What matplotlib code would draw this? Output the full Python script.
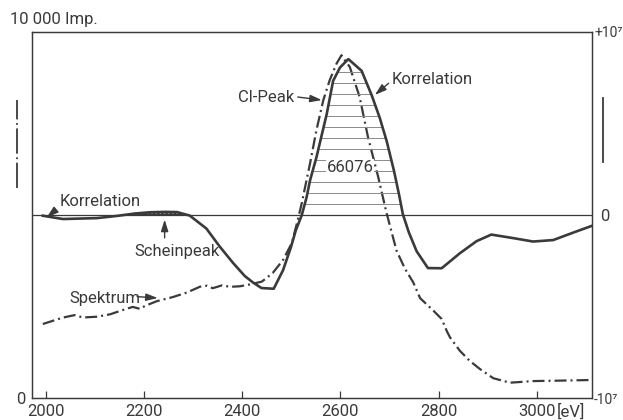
import numpy as np
import matplotlib
matplotlib.use('Agg')
import matplotlib.pyplot as plt

plt.rcParams['font.family'] = ['Roboto', 'DejaVu Sans']

# ---------------- data ----------------
# Spektrum (left axis, impulses)
spec_energy = [1994, 2035, 2059, 2076, 2104, 2131, 2157, 2177, 2192, 2202, 2226,
               2259, 2287, 2314, 2328, 2340, 2359, 2375, 2395, 2416, 2440, 2462,
               2483, 2501, 2513, 2521, 2538, 2551, 2565, 2578, 2592, 2602, 2609,
               2619, 2639, 2656, 2676, 2694, 2714, 2731, 2748, 2762, 2776, 2789,
               2806, 2817, 2823, 2843, 2863, 2884, 2911, 2945, 2992, 3060, 3111]
spec_counts = [2022, 2197, 2265, 2199, 2221, 2287, 2404, 2489, 2434, 2516, 2645,
               2759, 2880, 3041, 3068, 3000, 3079, 3038, 3052, 3104, 3180, 3415,
               3770, 4235, 4860, 5316, 6409, 7316, 8136, 8682, 9138, 9365, 9226,
               9043, 8223, 7128, 6081, 5043, 4030, 3538, 3161, 2729, 2552, 2388,
               2158, 1811, 1656, 1290, 1016, 790, 541, 418, 462, 478, 492]

# Korrelation (right axis, units of 10^6)
corr_energy = [1994, 2035, 2104, 2145, 2181, 2212, 2242, 2267, 2293, 2327, 2354,
               2381, 2405, 2422, 2439, 2464, 2483, 2499, 2509, 2521, 2531, 2538,
               2551, 2572, 2585, 2599, 2616, 2643, 2664, 2680, 2694, 2709, 2719,
               2727, 2739, 2755, 2778, 2806, 2843, 2877, 2907, 2951, 2992, 3033,
               3074, 3111]
corr_value = [-0.04, -0.22, -0.17, -0.05, 0.08, 0.15, 0.17, 0.16, -0.03, -0.74,
              -1.72, -2.61, -3.33, -3.69, -3.99, -4.03, -3.02, -1.77, -0.84, -0.02,
              0.97, 1.89, 3.15, 5.52, 7.33, 8.06, 8.52, 7.88, 6.51, 5.30, 4.04,
              2.40, 1.14, 0.04, -0.94, -1.98, -2.90, -2.91, -2.09, -1.43, -1.07,
              -1.26, -1.45, -1.37, -0.96, -0.60]

x_ticks = [2000, 2200, 2400, 2600, 2800, 3000]
x_tick_labels = ['2000', '2200', '2400', '2600', '2800', '3000']
right_ticks = [-10, 0, 10]
right_tick_labels = ['-10\u2077', '0', '+10\u2077']
peak_area_label = '66076'

INK = '#3a3a3a'
FS = 12

# ---------------- figure ----------------
fig = plt.figure(figsize=(6.23, 4.2), dpi=100)
ax = fig.add_axes([32 / 623, 1 - 398 / 420, 560 / 623, 366 / 420])
ax2 = ax.twinx()
ax.set_xlim(1972, 3112)
ax.set_ylim(0, 10000)
ax2.set_ylim(-10, 10)

for a in (ax, ax2):
    for s in a.spines.values():
        s.set_color(INK)
        s.set_linewidth(0.9)

se = np.array(spec_energy, float)
sc = np.array(spec_counts, float)
ce = np.array(corr_energy, float)
cv = np.array(corr_value, float)

# spectrum (dash-dot)
ax.plot(se, sc, color=INK, lw=1.6, ls=(0, (5.4, 1.8, 0.9, 1.8)), zorder=3)

# zero line of correlation
ax2.axhline(0, color=INK, lw=0.9, zorder=2)

# hatched area under correlation peak
imax = int(np.argmax(cv))
m_asc = (ce >= 2515) & (ce <= ce[imax])
m_des = (ce >= ce[imax]) & (ce <= 2730)
asc_e, asc_v = ce[m_asc], cv[m_asc]
des_e, des_v = ce[m_des], cv[m_des]
hatch_step = 0.6
levels = np.arange(hatch_step, cv[imax] - 0.3, hatch_step)
for lv in levels:
    e_l = np.interp(lv, asc_v, asc_e)
    e_r = np.interp(lv, des_v[::-1], des_e[::-1])
    ax2.hlines(lv, e_l, e_r, color='#8a8a8a', lw=0.7, zorder=1)

# Scheinpeak filled sliver
sp = (ce >= 2150) & (ce <= 2300)
ax2.fill_between(ce, cv, 0, where=sp & (cv > 0), interpolate=True,
                 facecolor=INK, edgecolor='white', hatch='....', lw=0, zorder=2)

# correlation (solid)
ax2.plot(ce, cv, color=INK, lw=1.9, zorder=4, solid_joinstyle='round')

ax2.text(2619, 2.62, peak_area_label, ha='center', va='center', fontsize=FS,
         color=INK, zorder=3,
         bbox=dict(boxstyle='square,pad=0.05', fc='white', ec='none'))

# ---------------- ticks ----------------
ax.set_xticks(x_ticks)
ax.set_xticklabels(x_tick_labels)
ax.tick_params(axis='x', direction='in', length=5, width=0.9, pad=4,
               labelsize=FS, colors=INK)
ax.set_yticks([0])
ax.set_yticklabels(['0'])
ax.tick_params(axis='y', length=0, pad=5, labelsize=FS, colors=INK)
ax2.set_yticks(right_ticks)
ax2.set_yticklabels(right_tick_labels)
ax2.tick_params(axis='y', length=0, pad=1.5, labelsize=10, colors=INK)
ax2.tick_params(axis='x', length=0)
ax2.get_yticklabels()[1].set_fontsize(FS)
ax2.get_yticklabels()[1].set_x(1.0 + 6 / 560)

ax.annotate('10 000 Imp.', xy=(0, 10000), xycoords=('axes fraction', 'data'),
            xytext=(-16, 9), textcoords='offset points', ha='left', va='center',
            fontsize=FS, color=INK)
ax.annotate('[eV]', xy=(3000, 0), xycoords=('data', 'axes fraction'),
            xytext=(14, -4), textcoords='offset points', ha='left', va='top',
            fontsize=FS, color=INK)

# ---------------- labels & arrows ----------------
arrow = dict(arrowstyle='-|>,head_length=0.7,head_width=0.22', color=INK, lw=1.0,
             shrinkA=0, shrinkB=0)

ax.text(2505, 8223, 'Cl-Peak', ha='right', va='center', fontsize=FS, color=INK)
ax.annotate('', xy=(2562, 8141), xytext=(2513, 8223), arrowprops=arrow)

ax2.text(2705, 7.38, 'Korrelation', ha='left', va='center', fontsize=FS, color=INK)
ax2.annotate('', xy=(2670, 6.56), xytext=(2698, 7.2), arrowprops=arrow)

ax2.text(2029, 0.72, 'Korrelation', ha='left', va='center', fontsize=FS, color=INK)
ax2.annotate('', xy=(2002, -0.13), xytext=(2019, 0.25), arrowprops=arrow)

ax2.text(2267, -2.02, 'Scheinpeak', ha='center', va='center', fontsize=FS, color=INK)
ax2.annotate('', xy=(2242, -0.25), xytext=(2242, -1.25), arrowprops=arrow)

ax.text(2049, 2732, 'Spektrum', ha='left', va='center', fontsize=FS, color=INK)
ax.annotate('', xy=(2228, 2732), xytext=(2186, 2770), arrowprops=arrow)

# axis key glyphs (dash-dot = left scale, solid = right scale)
ax.plot([-0.027, -0.027], [0.574, 0.814], transform=ax.transAxes, clip_on=False,
        color=INK, lw=1.3, ls=(0, (14, 2, 1, 2)))
ax.plot([1.019, 1.019], [0.645, 0.820], transform=ax.transAxes, clip_on=False,
        color=INK, lw=1.3)

fig.savefig('out.png', dpi=100)
